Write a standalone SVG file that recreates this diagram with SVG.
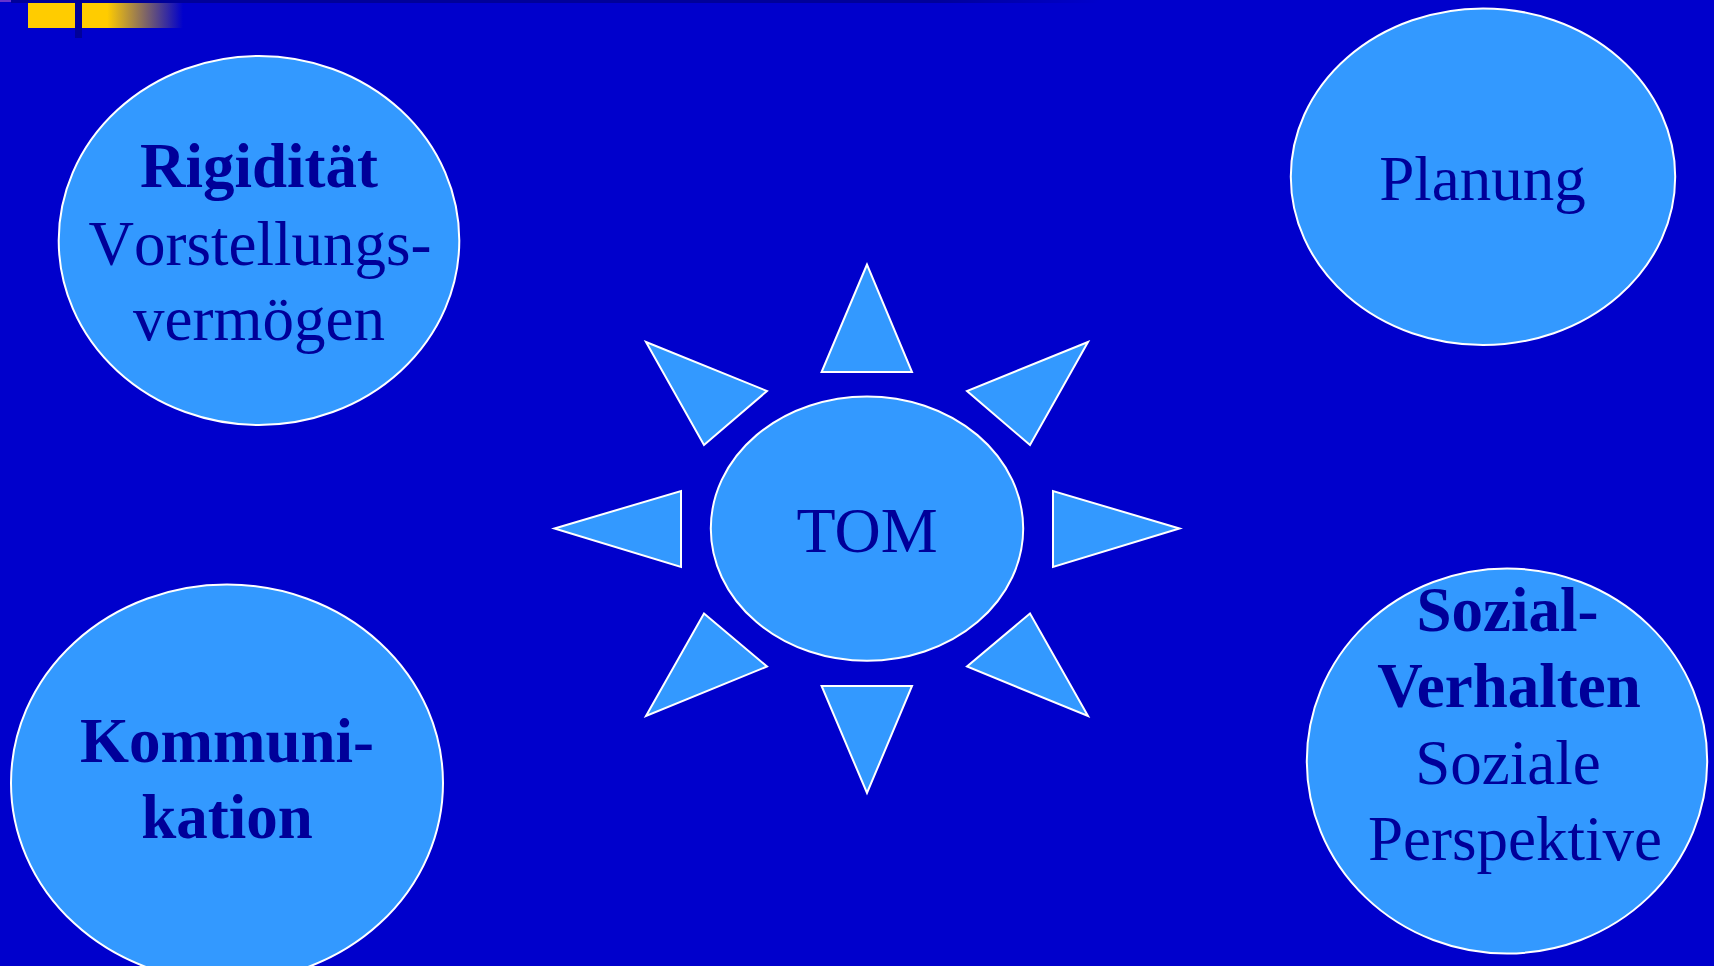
<svg xmlns="http://www.w3.org/2000/svg" width="1714" height="966" viewBox="0 0 1714 966">
<style>
.node{fill:#3399FF;stroke:#FFFFFF;stroke-width:2}
.ray{fill:#3399FF;stroke:#FFFFFF;stroke-width:2;stroke-linejoin:miter}
.t{font-family:"Liberation Serif","Times New Roman",serif;font-size:63px;fill:#000099;text-anchor:middle}
.b{font-weight:bold}
.nk{font-kerning:none}
</style>
<defs>
<linearGradient id="fadeY" x1="0" y1="0" x2="1" y2="0">
<stop offset="0" stop-color="#FFCC00"/>
<stop offset="0.25" stop-color="#FFCC00"/>
<stop offset="1" stop-color="#0000CC"/>
</linearGradient>
<linearGradient id="fadeTop" gradientUnits="userSpaceOnUse" x1="11" y1="0" x2="1100" y2="0">
<stop offset="0" stop-color="#000099"/>
<stop offset="0.85" stop-color="#000099"/>
<stop offset="1" stop-color="#0000CC"/>
</linearGradient>
</defs>
<rect width="1714" height="966" fill="#0000CC"/>
<g id="decoration">
<rect x="11" y="0" width="1100" height="3" fill="url(#fadeTop)"/>
<rect x="0" y="0" width="11" height="2" fill="#6633CC"/>
<rect x="28" y="3" width="47" height="25" fill="#FFCC00"/>
<rect x="82" y="3" width="101" height="25" fill="url(#fadeY)"/>
<rect x="75" y="0" width="7" height="38" fill="#000099"/>
</g>
<g id="connectors">
<polygon class="ray" points="867,264.5 821.6,372 912,372"/>
<polygon class="ray" points="646,342 767,391 704,445"/>
<polygon class="ray" points="1088,342 967,391 1030,445"/>
<polygon class="ray" points="554.5,528.5 681,491 681,567"/>
<polygon class="ray" points="1179.5,528.5 1053,491 1053,567"/>
<polygon class="ray" points="704,613.5 767,666.5 646,716"/>
<polygon class="ray" points="1030,613.5 967,666.5 1088,716"/>
<polygon class="ray" points="821.6,686 912,686 867,793"/>
</g>
<g id="tom">
<ellipse class="node" cx="867" cy="528.6" rx="156.2" ry="132.2"/>
<text class="t" x="867" y="552" style="font-size:64px">TOM</text>
</g>
<g id="rigiditaet">
<ellipse class="node" cx="259" cy="240.5" rx="200.3" ry="184.5"/>
<text class="t b" x="259" y="187">Rigidität</text>
<text class="t nk" x="260" y="265">Vorstellungs-</text>
<text class="t" x="259" y="340">vermögen</text>
</g>
<g id="planung">
<ellipse class="node" cx="1483" cy="176.7" rx="192.2" ry="168.3"/>
<text class="t" x="1482.5" y="200">Planung</text>
</g>
<g id="kommunikation">
<ellipse class="node" cx="227" cy="783" rx="216" ry="198.5"/>
<text class="t b" x="227" y="762">Kommuni-</text>
<text class="t b" x="227" y="838">kation</text>
</g>
<g id="sozialverhalten">
<ellipse class="node" cx="1507" cy="761" rx="200.2" ry="192.5"/>
<text class="t b" x="1507.5" y="631">Sozial-</text>
<text class="t b" x="1509" y="707">Verhalten</text>
<text class="t" x="1508" y="784">Soziale</text>
<text class="t" x="1515" y="860">Perspektive</text>
</g>
</svg>
